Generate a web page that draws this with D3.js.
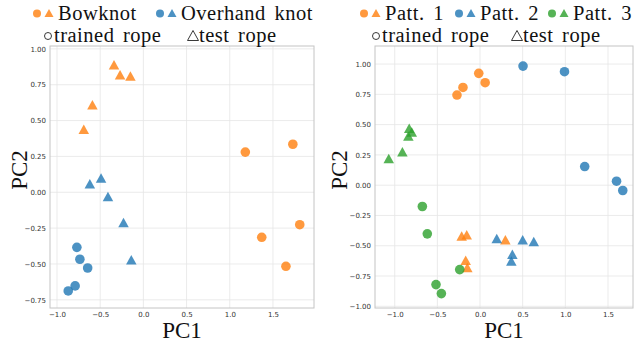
<!DOCTYPE html>
<html>
<head>
<meta charset="utf-8">
<script src="https://cdn.jsdelivr.net/npm/d3@7"></script>
<style>
  body { margin: 0; background: white; }
  svg { display: block; }
</style>
</head>
<body>
<div id="vis"></div>
<script>
// colours (tab10 with some alpha)
let orange = '#ff7f0e', blue = '#1f77b4', green = '#2ca02c';
let serif = '"Liberation Serif", "DejaVu Serif", serif';

// left panel: knot types
let knotNames = ['Bowknot', 'Overhand knot'];
let bowTrainX = [1.18, 1.73, 1.37, 1.81, 1.65];
let bowTrainY = [0.28, 0.335, -0.314, -0.226, -0.516];
let bowTestX = [-0.34, -0.27, -0.15, -0.59, -0.69];
let bowTestY = [0.89, 0.82, 0.81, 0.61, 0.44];
let ovTrainX = [-0.77, -0.735, -0.645, -0.79, -0.87];
let ovTrainY = [-0.384, -0.467, -0.528, -0.653, -0.688];
let ovTestX = [-0.62, -0.49, -0.41, -0.23, -0.14];
let ovTestY = [0.06, 0.10, -0.03, -0.21, -0.47];

// right panel: patterns
let pattNames = ['Patt. 1', 'Patt. 2', 'Patt. 3'];
let p1TrainX = [-0.27, -0.20, -0.015, 0.06];
let p1TrainY = [0.744, 0.807, 0.923, 0.846];
let p1TestX = [-0.215, -0.156, -0.168, -0.149, 0.297];
let p1TestY = [-0.42, -0.41, -0.62, -0.68, -0.45];
let p2TrainX = [0.504, 0.99, 1.227, 1.60, 1.673];
let p2TrainY = [0.983, 0.937, 0.154, 0.033, -0.044];
let p2TestX = [0.196, 0.50, 0.63, 0.379, 0.367];
let p2TestY = [-0.44, -0.45, -0.465, -0.57, -0.625];
let p3TrainX = [-0.676, -0.618, -0.238, -0.516, -0.453];
let p3TrainY = [-0.176, -0.402, -0.697, -0.821, -0.895];
let p3TestX = [-1.07, -0.91, -0.84, -0.83, -0.80];
let p3TestY = [0.22, 0.275, 0.405, 0.47, 0.44];

let ticksLeftX = [-1.0, -0.5, 0.0, 0.5, 1.0, 1.5];
let ticksLeftY = [-0.75, -0.5, -0.25, 0, 0.25, 0.5, 0.75, 1.0];
let ticksRightX = [-1.0, -0.5, 0.0, 0.5, 1.0, 1.5];
let ticksRightY = [-1.0, -0.75, -0.5, -0.25, 0, 0.25, 0.5, 0.75, 1.0];

let W = 635, H = 343;
let svg = d3.select('#vis').append('svg')
  .attr('width', W).attr('height', H);

function tri(w, h) {
  return 'M0,' + (-h / 2) + 'L' + (w / 2) + ',' + (h / 2) + 'L' + (-w / 2) + ',' + (h / 2) + 'Z';
}

function zip(xs, ys) { return xs.map((x, i) => [x, ys[i]]); }

function label(sel, size) {
  return sel.attr('font-family', serif).attr('font-size', size).attr('fill', '#111');
}

function panel(box, xdom, ydom, xt, yt, groups) {
  let x = d3.scaleLinear().domain(xdom).range([box.l, box.r]);
  let y = d3.scaleLinear().domain(ydom).range([box.b, box.t]);
  let g = svg.append('g');

  // grid
  g.selectAll('.gx').data(xt).join('line')
    .attr('x1', d => x(d)).attr('x2', d => x(d))
    .attr('y1', box.t).attr('y2', box.b)
    .attr('stroke', '#e6e6e6').attr('stroke-width', 0.8);
  g.selectAll('.gy').data(yt).join('line')
    .attr('y1', d => y(d)).attr('y2', d => y(d))
    .attr('x1', box.l).attr('x2', box.r)
    .attr('stroke', '#e6e6e6').attr('stroke-width', 0.8);

  let ax = g.append('g').attr('transform', 'translate(0,' + box.b + ')')
    .call(d3.axisBottom(x).tickValues(xt).tickFormat(d3.format('.1f')).tickSize(0).tickPadding(4));
  let ay = g.append('g').attr('transform', 'translate(' + box.l + ',0)')
    .call(d3.axisLeft(y).tickValues(yt).tickFormat(d3.format('.2f')).tickSize(0).tickPadding(4));
  [ax, ay].forEach(a => {
    a.select('.domain').remove();
    a.attr('font-family', '"DejaVu Sans", sans-serif').attr('font-size', 7);
    a.selectAll('text').attr('fill', '#333');
  });

  g.append('rect')
    .attr('x', box.l).attr('y', box.t)
    .attr('width', box.r - box.l).attr('height', box.b - box.t)
    .attr('fill', 'none').attr('stroke', '#c4c4c4').attr('stroke-width', 1);

  groups.forEach(gr => {
    g.selectAll(null).data(zip(gr.trainX, gr.trainY)).join('circle')
      .attr('cx', d => x(d[0])).attr('cy', d => y(d[1])).attr('r', 4.8)
      .attr('fill', gr.color).attr('fill-opacity', 0.8);
    g.selectAll(null).data(zip(gr.testX, gr.testY)).join('path')
      .attr('d', tri(10.5, 9.5))
      .attr('transform', d => 'translate(' + x(d[0]) + ',' + y(d[1]) + ')')
      .attr('fill', gr.color).attr('fill-opacity', 0.8);
  });

  // axis titles
  label(g.append('text'), 23)
    .attr('x', (box.l + box.r) / 2).attr('y', 338)
    .attr('text-anchor', 'middle').text('PC1');
  label(g.append('text'), 23)
    .attr('transform', 'translate(' + box.yl + ',' + 170 + ') rotate(-90)')
    .attr('text-anchor', 'middle').text('PC2');
}

panel({l: 50, r: 314, t: 46, b: 308, yl: 27}, [-1.081, 1.975], [-0.807, 1.02],
  ticksLeftX, ticksLeftY, [
    {color: orange, trainX: bowTrainX, trainY: bowTrainY, testX: bowTestX, testY: bowTestY},
    {color: blue, trainX: ovTrainX, trainY: ovTrainY, testX: ovTestX, testY: ovTestY}
  ]);

panel({l: 375, r: 633, t: 46, b: 308, yl: 347}, [-1.231, 1.793], [-1.014, 1.149],
  ticksRightX, ticksRightY, [
    {color: orange, trainX: p1TrainX, trainY: p1TrainY, testX: p1TestX, testY: p1TestY},
    {color: blue, trainX: p2TrainX, trainY: p2TrainY, testX: p2TestX, testY: p2TestY},
    {color: green, trainX: p3TrainX, trainY: p3TrainY, testX: p3TestX, testY: p3TestY}
  ]);

// legends
function legendText(x0, yb, text) {
  return label(svg.append('text'), 20.5).attr('x', x0).attr('y', yb)
    .attr('letter-spacing', 0.5).attr('word-spacing', 3).text(text);
}
function legendItem(x0, yb, color, text) {
  svg.append('circle').attr('cx', x0).attr('cy', yb - 6).attr('r', 4)
    .attr('fill', color).attr('fill-opacity', 0.8);
  svg.append('path').attr('d', tri(9, 8))
    .attr('transform', 'translate(' + (x0 + 12) + ',' + (yb - 6.5) + ')')
    .attr('fill', color).attr('fill-opacity', 0.8);
  legendText(x0 + 21, yb, text);
}
function legendShapes(cx, tx, yb) {
  svg.append('circle').attr('cx', cx).attr('cy', yb - 6).attr('r', 3.5)
    .attr('fill', 'none').attr('stroke', '#222').attr('stroke-width', 0.9);
  legendText(cx + 6, yb, 'trained rope');
  svg.append('path').attr('d', tri(11, 10))
    .attr('transform', 'translate(' + tx + ',' + (yb - 6.5) + ')')
    .attr('fill', 'none').attr('stroke', '#222').attr('stroke-width', 0.9);
  legendText(tx + 6, yb, 'test rope');
}

legendItem(37, 19.5, orange, knotNames[0]);
legendItem(160, 19.5, blue, knotNames[1]);
legendShapes(48, 193, 42);

legendItem(364, 19.5, orange, pattNames[0]);
legendItem(459, 19.5, blue, pattNames[1]);
legendItem(552, 19.5, green, pattNames[2]);
legendShapes(376, 517, 42);
</script>
</body>
</html>
